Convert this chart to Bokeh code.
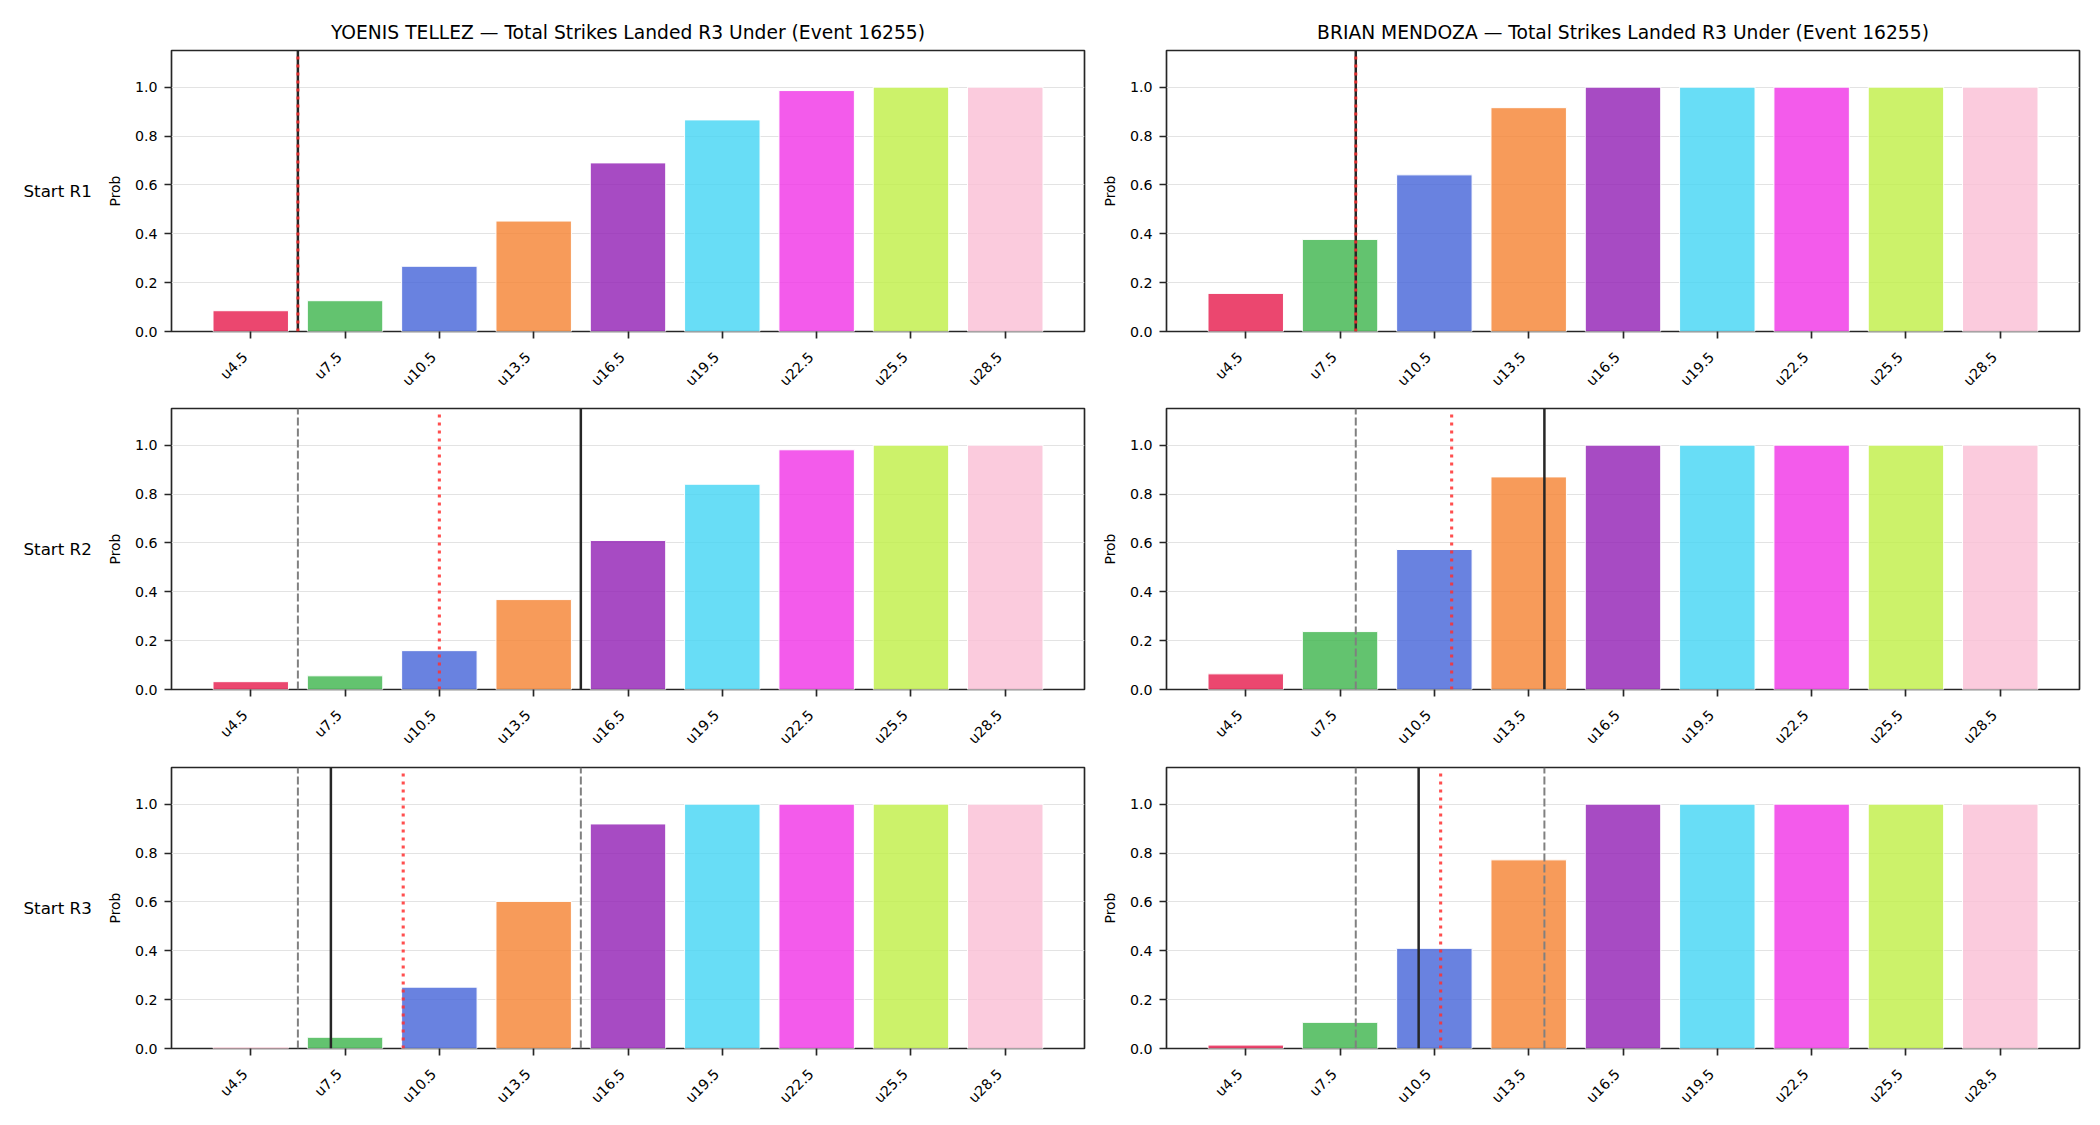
import math

from bokeh.plotting import figure
from bokeh.layouts import column, row
from bokeh.models import (Range1d, FixedTicker, NumeralTickFormatter, LinearAxis,
                          CustomLabelingPolicy)
from bokeh.core.properties import value
from bokeh.embed import file_html
from bokeh.resources import INLINE

# Under-lines (total strikes landed in R3) and their tick labels
thresholds = [4.5, 7.5, 10.5, 13.5, 16.5, 19.5, 22.5, 25.5, 28.5]
tick_labels = ["u4.5", "u7.5", "u10.5", "u13.5", "u16.5", "u19.5", "u22.5", "u25.5", "u28.5"]
bar_colors = ["#e6194b", "#3cb44b", "#4363d8", "#f58231", "#911eb4",
              "#42d4f4", "#f032e6", "#bfef45", "#fabed4"]

fighters = ["YOENIS TELLEZ", "BRIAN MENDOZA"]
event_id = 16255
start_labels = ["Start R1", "Start R2", "Start R3"]

# P(under) per line, one list per starting round
tellez_r1 = [0.085, 0.126, 0.267, 0.452, 0.690, 0.866, 0.986, 1.0, 1.0]
tellez_r2 = [0.032, 0.056, 0.159, 0.368, 0.610, 0.840, 0.981, 1.0, 1.0]
tellez_r3 = [0.005, 0.046, 0.251, 0.602, 0.919, 1.0, 1.0, 1.0, 1.0]
mendoza_r1 = [0.156, 0.377, 0.641, 0.916, 1.0, 1.0, 1.0, 1.0, 1.0]
mendoza_r2 = [0.064, 0.237, 0.573, 0.870, 1.0, 1.0, 1.0, 1.0, 1.0]
mendoza_r3 = [0.014, 0.107, 0.410, 0.772, 1.0, 1.0, 1.0, 1.0, 1.0]

# Reference markers in strikes: dashed = round boundaries, solid = baseline, dotted = projection
tellez_dashed = [[], [6.0], [6.0, 15.0]]
tellez_solid = [6.0, 15.0, 7.05]
tellez_dotted = [6.0, 10.5, 9.35]
mendoza_dashed = [[], [8.0], [8.0, 14.0]]
mendoza_solid = [8.0, 14.0, 10.0]
mendoza_dotted = [8.0, 11.05, 10.7]

FONT = "DejaVu Sans"
INK = "#262626"
Y_MAX = 1.15
X_RANGE = (1.98, 31.02)
TICK_FONT = "14.2px"

# vertical borders of each panel row: (top, bottom)
ROW_BORDERS = [(50, 72), (5, 72), (6, 77)]
# rotated tick labels sit with their upper-right corner at the tick
LABEL_SHIFT = 0.18

# the tick-mark axis draws no labels of its own
NO_LABELS = "for (const i of indices) { indices.unset(i) }\nreturn indices"


def row_label(r):
    top, bottom = ROW_BORDERS[r]
    p = figure(frame_width=100, frame_height=281,
               min_border_left=0, min_border_right=0,
               min_border_top=top, min_border_bottom=bottom,
               x_range=Range1d(0, 100), y_range=Range1d(0, 1),
               x_axis_type=None, y_axis_type=None,
               output_backend="svg", toolbar_location=None)
    p.outline_line_color = None
    p.background_fill_color = "white"
    p.border_fill_color = "white"
    p.text(x=[23], y=[0.5], text=[start_labels[r]],
           text_font=value(FONT), text_font_size="16.7px",
           text_color="black", text_align="left", text_baseline="middle")
    return p


def make_panel(probs, dashed, solid, dotted, r, c):
    title = f"{fighters[c]} \u2014 Total Strikes Landed R3 Under (Event {event_id})" if r == 0 else None
    top, bottom = ROW_BORDERS[r]
    p = figure(
        frame_width=913, frame_height=281,
        min_border_left=71 if c == 0 else 78,
        min_border_right=4 if c == 0 else 21,
        min_border_top=top, min_border_bottom=bottom,
        x_range=Range1d(*X_RANGE), y_range=Range1d(0, Y_MAX),
        output_backend="svg", toolbar_location=None, title=title,
    )
    p.background_fill_color = "white"
    p.border_fill_color = "white"
    p.outline_line_color = INK
    p.outline_line_width = 1.67

    if title:
        p.title.text_font = FONT
        p.title.text_font_size = "18.7px"
        p.title.text_font_style = "normal"
        p.title.text_color = "black"
        p.title.align = "center"
        p.title.standoff = 15

    p.vbar(x=thresholds, top=probs, width=2.4, bottom=0,
           fill_color=bar_colors, fill_alpha=0.8,
           line_color="white", line_width=1)

    if dashed:
        p.segment(x0=dashed, y0=[0] * len(dashed), x1=dashed, y1=[Y_MAX] * len(dashed),
                  line_color="#808080", line_width=2.0, line_dash="8 3")
    p.segment(x0=[solid], y0=[0], x1=[solid], y1=[Y_MAX],
              line_color=INK, line_width=2.5)
    p.segment(x0=[dotted], y0=[0], x1=[dotted], y1=[1.127],
              line_color="#ff3030", line_alpha=0.85, line_width=3.1, line_dash="3 5")

    p.xgrid.grid_line_color = None
    p.ygrid.grid_line_color = "#e3e3e3"
    p.ygrid.grid_line_width = 1.2

    p.yaxis.ticker = FixedTicker(ticks=[0.0, 0.2, 0.4, 0.6, 0.8, 1.0])
    p.yaxis.formatter = NumeralTickFormatter(format="0.0")

    p.axis.axis_line_color = None
    p.axis.minor_tick_line_color = None
    p.axis.major_tick_in = 0
    p.axis.major_tick_out = 7
    p.axis.major_tick_line_color = INK
    p.axis.major_tick_line_width = 1.67
    p.axis.major_label_standoff = 7
    p.axis.major_label_text_font = FONT
    p.axis.major_label_text_font_size = TICK_FONT
    p.axis.major_label_text_color = "black"

    # bottom axis: tick marks only
    p.xaxis.ticker = FixedTicker(ticks=thresholds)
    p.xaxis.major_label_policy = CustomLabelingPolicy(code=NO_LABELS)
    p.xaxis.major_label_text_font_size = "0px"
    p.xaxis.major_label_standoff = 0

    # second bottom axis carries the rotated labels
    label_ticks = [t - LABEL_SHIFT for t in thresholds]
    lab_axis = LinearAxis(
        ticker=FixedTicker(ticks=label_ticks),
        major_label_overrides=dict(zip(label_ticks, tick_labels)),
        major_label_orientation=math.pi / 4,
        major_label_standoff=16,
        major_label_text_font=FONT,
        major_label_text_font_size=TICK_FONT,
        major_label_text_color="black",
        major_tick_in=0, major_tick_out=0,
        minor_tick_line_color=None, axis_line_color=None,
    )
    p.add_layout(lab_axis, "below")

    p.yaxis.axis_label = "Prob"
    p.yaxis.axis_label_text_font = FONT
    p.yaxis.axis_label_text_font_size = "13.9px"
    p.yaxis.axis_label_text_font_style = "normal"
    p.yaxis.axis_label_text_color = "black"
    p.yaxis.axis_label_standoff = 9
    return p


tellez = [tellez_r1, tellez_r2, tellez_r3]
mendoza = [mendoza_r1, mendoza_r2, mendoza_r3]

rows = []
for r in range(3):
    left = make_panel(tellez[r], tellez_dashed[r], tellez_solid[r], tellez_dotted[r], r, 0)
    right = make_panel(mendoza[r], mendoza_dashed[r], mendoza_solid[r], mendoza_dotted[r], r, 1)
    rows.append(row(row_label(r), left, right))

layout = column(*rows)

open("out.html", "w").write(file_html(layout, INLINE))
